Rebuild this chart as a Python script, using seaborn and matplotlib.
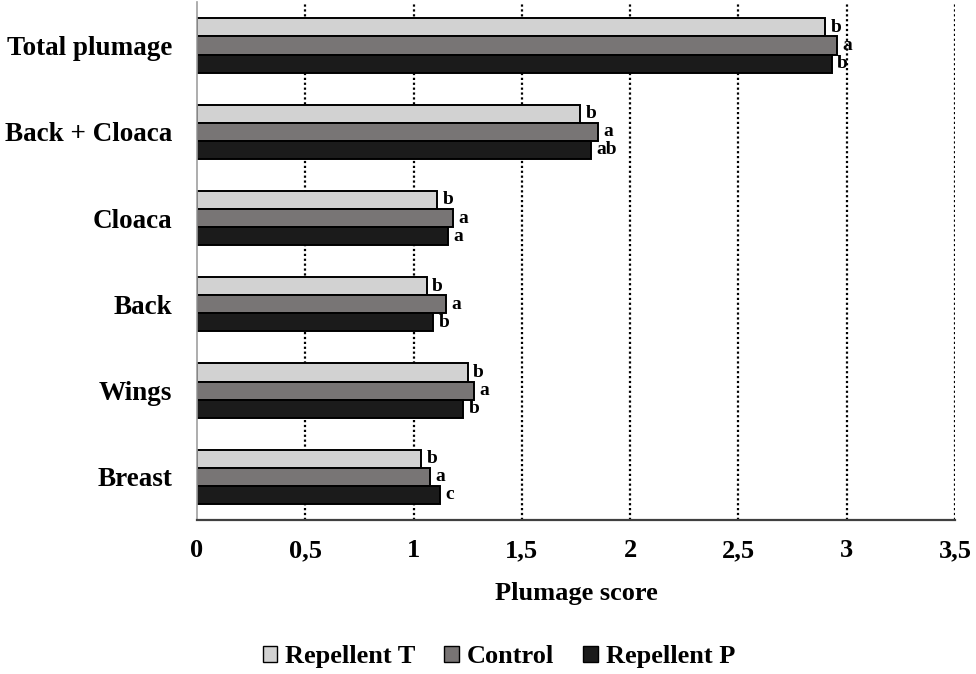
import matplotlib
matplotlib.use("Agg")
import matplotlib.pyplot as plt
import seaborn as sns
import pandas as pd
from matplotlib.ticker import FuncFormatter
from matplotlib.patches import Patch

regions = ["Total plumage", "Back + Cloaca", "Cloaca", "Back", "Wings", "Breast"]
treatments = ["Repellent T", "Control", "Repellent P"]
repellent_t = [2.90, 1.77, 1.11, 1.06, 1.25, 1.035]
control = [2.955, 1.85, 1.18, 1.15, 1.28, 1.075]
repellent_p = [2.93, 1.82, 1.16, 1.09, 1.23, 1.12]
letters_t = ["b", "b", "b", "b", "b", "b"]
letters_c = ["a", "a", "a", "a", "a", "a"]
letters_p = ["b", "ab", "a", "b", "b", "c"]
colors = ["#d2d2d2", "#787474", "#1b1b1b"]
x_ticks = [0, 0.5, 1, 1.5, 2, 2.5, 3, 3.5]

rows = []
for name, vals in zip(treatments, [repellent_t, control, repellent_p]):
    for r, v in zip(regions, vals):
        rows.append({"Region": r, "Score": v, "Treatment": name})
df = pd.DataFrame(rows)

sns.set_theme(style="white")
plt.rcParams["font.family"] = ["Liberation Serif", "DejaVu Serif"]
plt.rcParams["font.weight"] = "bold"
plt.rcParams["text.color"] = "black"
plt.rcParams["axes.labelcolor"] = "black"
plt.rcParams["xtick.color"] = "black"
plt.rcParams["ytick.color"] = "black"

fig = plt.figure(figsize=(9.76, 6.74), dpi=100)
ax = fig.add_axes([0.2018, 0.2285, 0.7767, 0.768])

sns.barplot(data=df, y="Region", x="Score", hue="Treatment", order=regions,
            hue_order=treatments, palette=colors, edgecolor="black",
            linewidth=1.4, width=0.63, orient="h", ax=ax, legend=False)

for cont, labs in zip(ax.containers, [letters_t, letters_c, letters_p]):
    ax.bar_label(cont, labels=labs, padding=4, fontsize=14, fontweight="bold")

ax.set_xlim(0, 3.5)
ax.set_ylim(5.5, -0.5)
ax.set_xticks(x_ticks)
ax.xaxis.set_major_formatter(FuncFormatter(lambda v, p: ("%g" % v).replace(".", ",")))
for xv in x_ticks[1:]:
    ax.axvline(xv, color="black", linestyle=(0, (1.0, 1.2)), linewidth=1.6, zorder=0)

for s in ["top", "right"]:
    ax.spines[s].set_visible(False)
ax.spines["left"].set_color("#a0a0a0")
ax.spines["bottom"].set_color("#404040")
ax.spines["left"].set_linewidth(1.2)
ax.spines["bottom"].set_linewidth(1.6)

ax.tick_params(axis="x", length=0, pad=14, labelsize=19)
ax.tick_params(axis="y", length=0, pad=18, labelsize=19.5)
for lab in ax.get_xticklabels() + ax.get_yticklabels():
    lab.set_fontweight("bold")
ax.set_ylabel("")
ax.set_xlabel("Plumage score", fontsize=19, fontweight="bold", labelpad=14)

handles = [Patch(facecolor=c, edgecolor="black", linewidth=1.0) for c in colors]
fig.legend(handles, treatments, loc="center", bbox_to_anchor=(0.511, 0.026), ncol=3,
           frameon=False, handlelength=0.55, handleheight=0.55, handletextpad=0.3,
           columnspacing=1.1, prop={"size": 19, "weight": "bold"})

fig.savefig("out.png", dpi=100)
